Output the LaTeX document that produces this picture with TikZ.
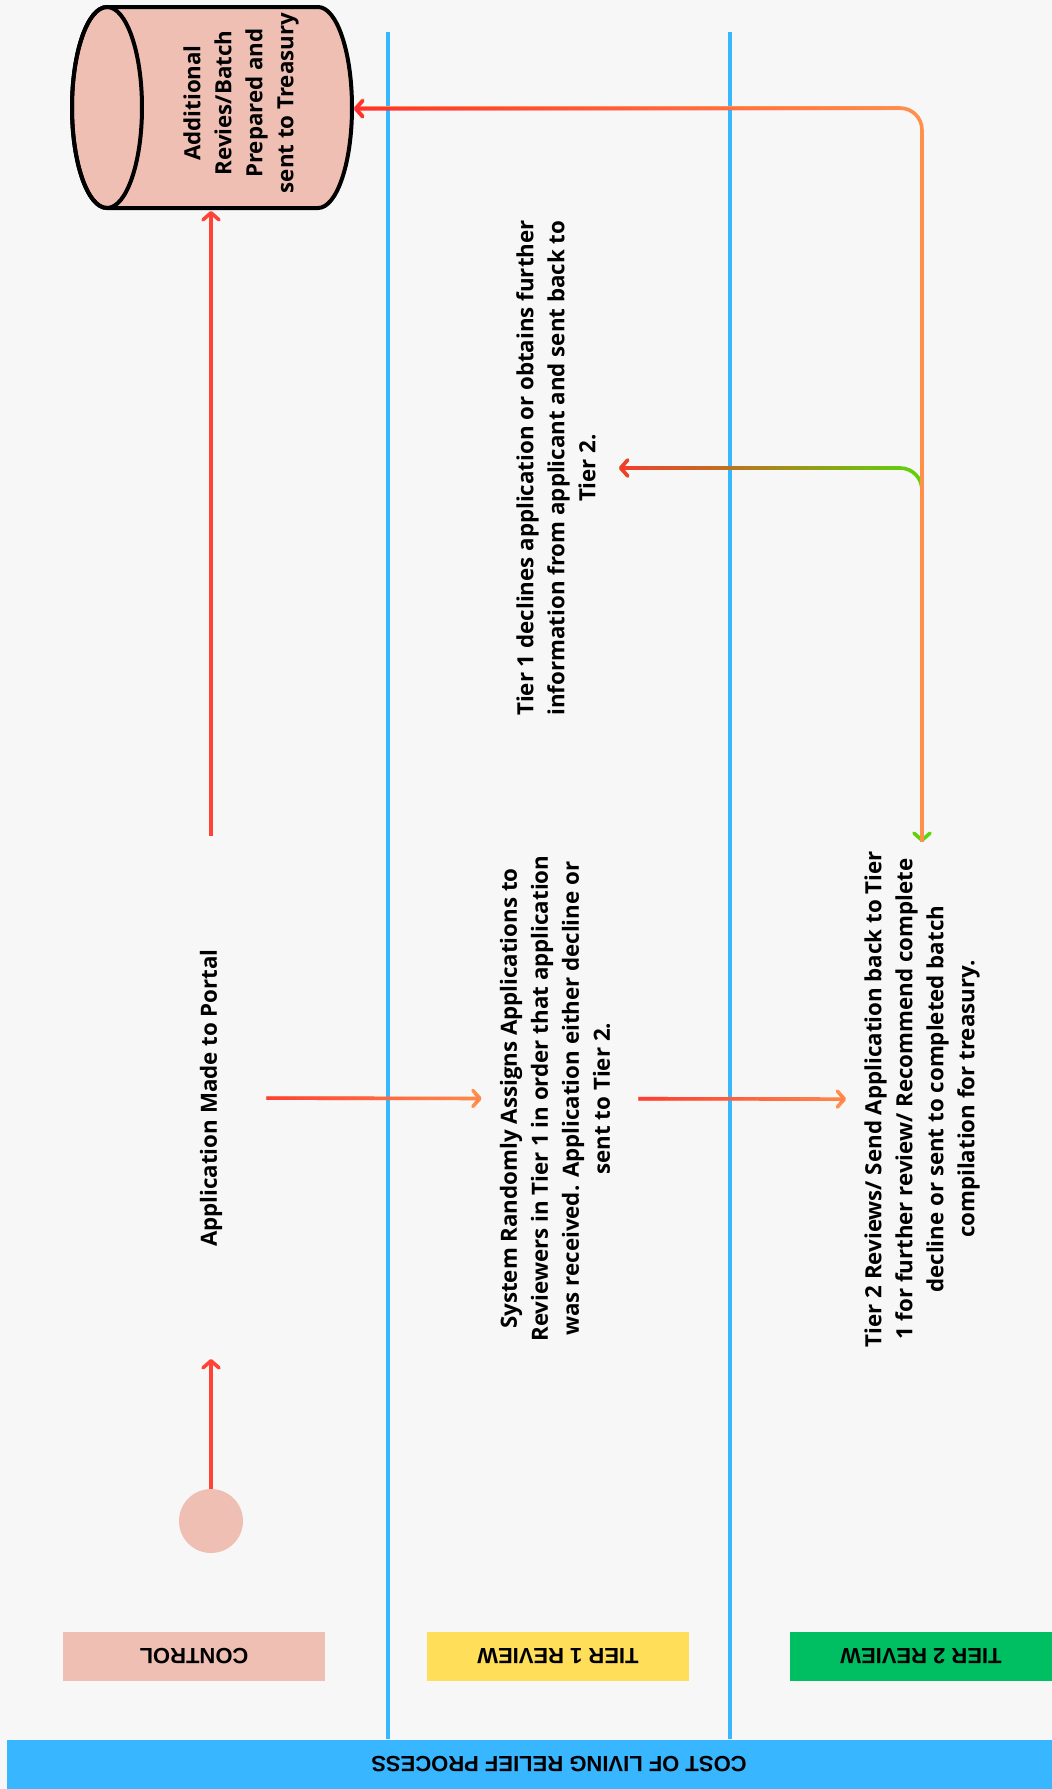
\documentclass[tikz,border=0pt]{standalone}
\usepackage{fontspec}
\setmainfont{Open Sans}
\newfontfamily\lanefont{Liberation Sans}
\usetikzlibrary{arrows.meta,fadings}

\definecolor{paper}{HTML}{F7F7F7}
\definecolor{salmon}{HTML}{F0BFB4}
\definecolor{tieryellow}{HTML}{FFDE59}
\definecolor{tiergreen}{HTML}{00BF63}
\definecolor{laneblue}{HTML}{38B6FF}
\definecolor{flowred}{HTML}{FF3131}
\definecolor{floworange}{HTML}{FF914D}
\definecolor{flowgreen}{HTML}{5CD60A}

\tikzfading[name=fade right, left color=transparent!0, right color=transparent!100]

\begin{document}
\begin{tikzpicture}[
        x=1pt, y=-1pt,
        every node/.style={inner sep=0pt},
        flow text/.style={rotate=90, align=center, font=\bfseries\fontsize{22.3}{31}\selectfont},
        lane label/.style={rotate=180, minimum width=262pt, minimum height=49pt,
            font=\lanefont\bfseries\fontsize{22}{26}\selectfont},
        lane line/.style={draw=laneblue, line width=3.6pt},
        flow/.style={line width=3.6pt, draw=#1, -{Straight Barb[length=7pt,width=16pt,round]}},
        fade right/.style={postaction={draw=flowred, path fading=fade right}}]

        \useasboundingbox (0,0) rectangle (1052,1789);
        \fill[paper] (0,0) rectangle (1052,1789);

        \draw[lane line] (388,32) -- (388,1739);
        \draw[lane line] (730,32) -- (730,1739);

        \node [fill=laneblue, minimum width=1045pt, minimum height=49pt] (titlebar) at (529.5,1764) {};
        \node [rotate=180, font=\lanefont\bfseries\fontsize{22}{26}\selectfont] (title) at (559,1764)
            {COST OF LIVING RELIEF PROCESS};

        \node [lane label, fill=salmon] (control) at (194,1656) {CONTROL};
        \node [lane label, fill=tieryellow] (tier1) at (558,1656) {TIER 1 REVIEW};
        \node [lane label, fill=tiergreen] (tier2) at (921,1656) {TIER 2 REVIEW};

        \filldraw [fill=salmon, line width=4pt] (107,7) -- (318,7)
            arc [start angle=-90, end angle=90, x radius=34, y radius=100.5] -- (107,208)
            arc [start angle=90, end angle=270, x radius=35, y radius=100.5] -- cycle;
        \draw [line width=4pt] (107,107.5) ellipse [x radius=35, y radius=100.5];
        \coordinate (batchbottom) at (211,211);
        \coordinate (batchright) at (354,108);

        \node [circle, fill=salmon, minimum size=64pt] (start) at (211,1521) {};
        \node [flow text] (batch) at (241,103) {Additional\\Revies/Batch\\Prepared and\\sent to Treasury};
        \node [flow text] (portal) at (211,1098) {Application Made to Portal};
        \node [flow text] (assign) at (555,1098.6)
            {System Randomly Assigns Applications to\\Reviewers in Tier 1 in order that application\\was received. Application either decline or\\sent to Tier 2.};
        \node [flow text] (decline) at (556,468)
            {Tier 1 declines application or obtains further\\information from applicant and sent back to\\Tier 2.};
        \node [flow text] (review) at (922,1099.2)
            {Tier 2 Reviews/ Send Application back to Tier\\1 for further review/ Recommend complete\\decline or sent to completed batch\\compilation for treasury.};

        \draw [flow=flowred!80!floworange, shorten >=112pt] (start) -- (portal);
        \draw [flow=flowred!80!floworange, shorten <=113pt] (portal) -- (batchbottom);
        \draw [flow=floworange, fade right, shorten <=44pt, shorten >=18pt] (portal) -- (assign);
        \draw [flow=floworange, fade right, shorten <=28pt, shorten >=18pt] (assign) -- (review);
        \draw [flow=flowgreen, {Straight Barb[length=7pt,width=16pt,round]}-{Straight Barb[length=7pt,width=16pt,round]},
            fade right, rounded corners=22pt, shorten <=23pt, shorten >=9pt] (decline) -| (review);
        \draw [flow=floworange, fade right, rounded corners=22pt, shorten <=9pt] (review) |- (batchright);
    \end{tikzpicture}
\end{document}
